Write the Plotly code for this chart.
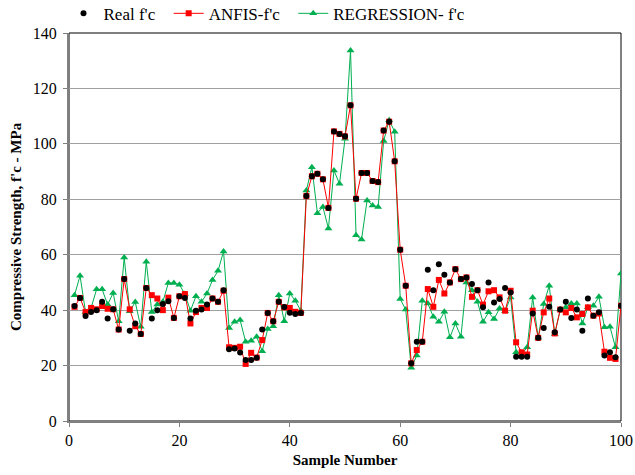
import plotly.graph_objects as go

samples = list(range(1, 101))

real_fc = [41.5, 44.4, 37.9, 39.3, 40, 43, 37, 40.3, 33, 51.2,
           32.6, 35.2, 31.4, 48, 37, 40, 42.2, 43.2, 37.2, 45,
           44.4, 37, 39.8, 40.2, 42, 44.2, 43, 47.2, 25.9, 26.2,
           24.7, 22, 22, 22.8, 33, 39, 36, 43, 41.1, 39.1,
           38.6, 39, 81.2, 88.3, 89.2, 87.2, 76.9, 104.5, 103.6, 102.7,
           113.9, 80.2, 89.5, 89.5, 86.6, 86.2, 104.8, 108, 93.7, 61.8,
           48.8, 20.8, 28.6, 28.6, 54.6, 47.2, 56.6, 52.8, 50, 54.8,
           51.2, 51.8, 49.4, 47.2, 41, 50, 42.8, 44, 48, 46.4,
           23.2, 23.2, 23.2, 38.8, 30, 33.6, 41.2, 32, 40.2, 43,
           37.2, 40.2, 32.6, 44.2, 38, 39.2, 23.6, 24.8, 23, 41.6]

anfis_fc = [41.2, 44.4, 39.3, 40.8, 40.3, 41.5, 40.5, 40.3, 33, 51.2,
            40.3, 34.2, 31.4, 48, 45.4, 44.2, 40, 44.5, 37.2, 45,
            45.8, 35.2, 39.3, 40.8, 40.8, 44.2, 43, 47, 26.6, 26.4,
            26.8, 20.6, 24.6, 22.9, 29.2, 39, 36, 43, 41, 40.8,
            39.4, 39, 81.2, 88.3, 89.2, 87.2, 76.9, 104.5, 103.6, 102.7,
            113.9, 80.2, 89.5, 89.5, 86.6, 86.2, 104.8, 108, 93.7, 61.8,
            48.8, 20.8, 25.6, 28.6, 47.6, 41.2, 50.9, 46, 50, 54.8,
            51.2, 51.8, 44.8, 47.2, 42, 46.8, 47.2, 44.6, 39.8, 47,
            28.4, 24.8, 24, 39.8, 30, 39.2, 44.2, 31.6, 40.2, 39.2,
            40.8, 37.4, 38.6, 41, 38, 38.8, 25, 22.8, 22.4, 41.6]

regression_fc = [45.4, 52.4, 39.3, 40.8, 47.5, 47.5, 42, 46.2, 36, 59,
                 39.6, 42.9, 34, 57.5, 39.3, 42, 43, 49.8, 49.8, 49.2,
                 45.8, 39.8, 45, 43, 46, 50.9, 54.2, 61.2, 33.6, 35.8,
                 36.4, 28.6, 29, 30.4, 25.2, 33.2, 34.2, 45.4, 36, 46,
                 43.4, 39.8, 83.2, 91.6, 75, 77.2, 69.5, 90.4, 85.6, 101.8,
                 133.7, 67, 65.5, 79.6, 77.8, 77.2, 101, 108.5, 104.4, 44,
                 40.2, 19.2, 23.6, 43.4, 42.4, 37.6, 35.8, 39.4, 30.2, 35.2,
                 30.4, 50, 47.2, 43, 35.8, 39.2, 36.8, 40.6, 39.6, 44.6,
                 24.8, 24, 26.6, 44.6, 30, 42.2, 48.8, 31.4, 40.2, 41,
                 42.4, 42.4, 35.2, 41, 41.6, 44.8, 33.8, 34, 26.6, 53.2]

x_ticks = [0, 20, 40, 60, 80, 100]
y_ticks = [0, 20, 40, 60, 80, 100, 120, 140]

font_family = "Liberation Serif, Times New Roman, serif"

fig = go.Figure()
fig.add_trace(go.Scatter(
    x=samples, y=regression_fc, mode="lines+markers", name="REGRESSION- f'c",
    line=dict(color="#00B050", width=1),
    marker=dict(symbol="triangle-up", size=7, color="#00B050"),
))
fig.add_trace(go.Scatter(
    x=samples, y=anfis_fc, mode="lines+markers", name="ANFIS-f'c\u2002",
    line=dict(color="#FF0000", width=1),
    marker=dict(symbol="square", size=6, color="#FF0000"),
))
fig.add_trace(go.Scatter(
    x=samples, y=real_fc, mode="markers", name="Real f'c\u2002",
    marker=dict(symbol="circle", size=6, color="#000000"),
))

fig.add_shape(type="rect", xref="paper", yref="paper", x0=0, y0=0, x1=1, y1=1,
              line=dict(color="#000000", width=1), layer="below")

fig.add_annotation(
    text="<b>Compressive Strength, f'c - MPa</b>", textangle=-90,
    xref="paper", yref="paper", x=-0.096, y=0.5, xanchor="center", yanchor="middle",
    showarrow=False, font=dict(family=font_family, size=15, color="#000000"),
)

fig.update_layout(
    width=635, height=475,
    margin=dict(l=69, r=14, t=33, b=54, autoexpand=False),
    paper_bgcolor="white", plot_bgcolor="white",
    font=dict(family=font_family, size=15, color="#000000"),
    legend=dict(orientation="h", traceorder="reversed",
                xref="container", yref="container",
                x=0.1, y=0.971, xanchor="left", yanchor="middle",
                font=dict(family=font_family, size=17),
                bgcolor="rgba(0,0,0,0)", itemwidth=30),
    showlegend=True,
)
fig.update_xaxes(
    range=[0, 100], tickvals=x_ticks, ticks="outside", ticklen=4,
    tickcolor="#808080", showline=True, linecolor="#808080", linewidth=2,
    showgrid=False, zeroline=False, automargin=False,
    title=dict(text="<b>Sample Number</b>", font=dict(family=font_family, size=15), standoff=6),
    tickfont=dict(family=font_family, size=16),
)
fig.update_yaxes(
    range=[0, 140], tickvals=y_ticks, ticks="outside", ticklen=4,
    tickcolor="#808080", showline=True, linecolor="#808080", linewidth=2,
    showgrid=True, gridcolor="#A0A0A0", gridwidth=1, zeroline=False, automargin=False,
    ticklabelstandoff=3,
    tickfont=dict(family=font_family, size=16),
)

fig.write_html("out.html", config={"displayModeBar": False},
               post_script="document.body.style.margin='0';document.body.style.overflow='hidden';")
